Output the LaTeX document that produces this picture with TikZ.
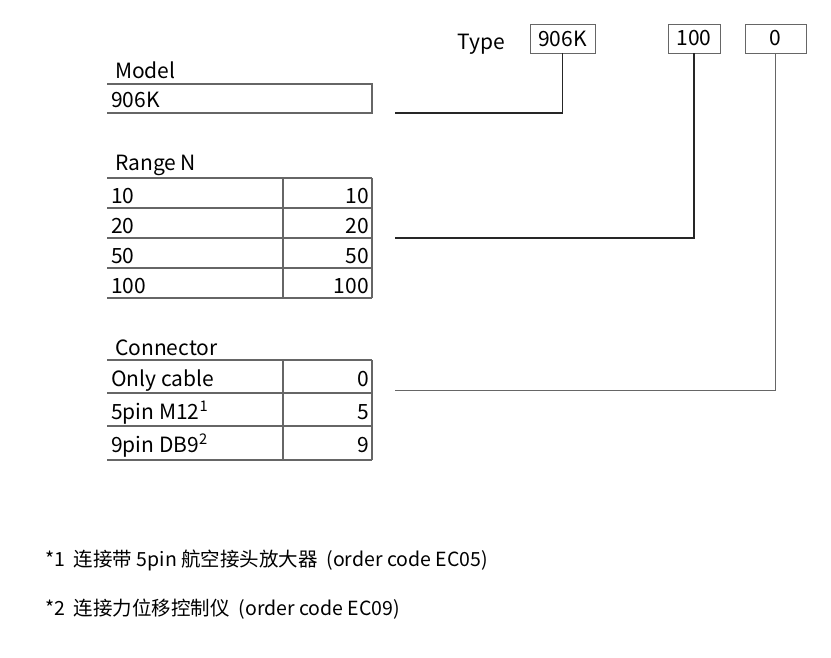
\documentclass[tikz,border=0pt]{standalone}
\usepackage{fontspec}
\setmainfont{Noto Sans CJK SC}
\usetikzlibrary{positioning}

\begin{document}
\begin{tikzpicture}[%
    x=1pt, y=-1pt,
    font=\fontsize{21}{24}\selectfont,
    code/.style={draw, thick, gray!80!black, text=black, minimum height=29pt, inner sep=1pt},
    row/.style={gray!80!black, line width=1.4pt},
    link/.style={line width=1.3pt, black!85},
    head/.style={anchor=base west, inner sep=0pt},
    cell/.style={anchor=base west, inner sep=0pt},
    val/.style={anchor=base east, inner sep=0pt}
  ]
  \useasboundingbox (0,0) rectangle (831,657);

  % type code
  \node[anchor=base east, inner sep=0pt] at (505,49) (type) {Type};
  \node[code, minimum width=65pt] at (562.5,38.5) (tmodel) {906K};
  \node[code, minimum width=52pt] at (694,38.5) (trange) {100};
  \node[code, minimum width=61pt] at (775.5,38.5) (tconn) {0};

  % model
  \node[head] at (115,78) (model) {Model};
  \draw[row] (107,84) -- (372,84) -- (372,113) -- (107,113);
  \node[cell] at (111,107) (m1) {906K};
  \coordinate (lm) at (395,113);
  \draw[link] (lm) -| (tmodel.south);

  % range
  \node[head] at (115,170) (range) {Range N};
  \foreach \y/\v [count=\i] in {178/10,208/20,238/50,268/100} {
    \draw[row] (107,\y) -- (372,\y);
    \node[cell] at (111,\y+25) (r\i) {\v};
    \node[val] at (369,\y+25) (rv\i) {\v};
  }
  \draw[row] (107,298) -- (372,298);
  \draw[row] (283,178) -- (283,298);
  \draw[row] (372,178) -- (372,298);
  \coordinate (lr) at (395,238);
  \draw[link] (lr) -| (trange.south);

  % connector
  \node[head] at (115,355) (conn) {Connector};
  \foreach \y/\t/\v [count=\i] in {360/Only cable/0,393/5pin M12\textsuperscript{1}/5,426/9pin DB9\textsuperscript{2}/9} {
    \draw[row] (107,\y) -- (372,\y);
    \node[cell] at (111,\y+26) (c\i) {\t};
    \node[val] at (369,\y+26) (cv\i) {\v};
  }
  \draw[row] (107,460) -- (372,460);
  \draw[row] (283,360) -- (283,460);
  \draw[row] (372,360) -- (372,460);
  \coordinate (lc) at (395,390);
  \draw[link, line width=1pt, gray!80!black] (lc) -| (tconn.south);

  % notes
  \node[anchor=base west, inner sep=0pt, font=\fontsize{19.5}{22}\selectfont] at (45,566) (n1) {*1\ \ 连接带 5pin 航空接头放大器\ \ (order code EC05)};
  \node[anchor=base west, inner sep=0pt, font=\fontsize{19.5}{22}\selectfont] at (45,615) (n2) {*2\ \ 连接力位移控制仪\ \ (order code EC09)};
\end{tikzpicture}
\end{document}
